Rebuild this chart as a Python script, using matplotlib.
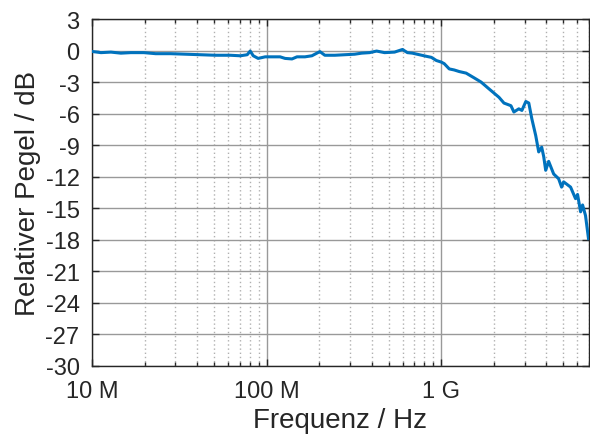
import numpy as np
import matplotlib
matplotlib.use("Agg")
import matplotlib.pyplot as plt
from matplotlib.ticker import FixedLocator, LogLocator, NullFormatter

# frequency in MHz and relative level in dB
freq_mhz = [10.1, 11.25, 12.83, 14.63, 16.68, 19.78, 23.15, 28.19, 34.33, 41.8,
            50.9, 61.9, 70.6, 77.4, 80.5, 83.8, 89.4, 98.1, 104.7, 119.4,
            127.5, 139.7, 149.2, 165.7, 181.6, 201.7, 215.4, 245.6, 280.0, 319.3,
            350.1, 388.7, 426.4, 473.5, 540, 599.6, 640, 683.5, 749.6, 821.9,
            877.7, 937.5, 1000, 1040, 1111, 1186, 1267, 1388, 1542, 1690,
            1877, 2140, 2286, 2506, 2606, 2781, 2896, 3050, 3172, 3302,
            3476, 3615, 3760, 3862, 3963, 4122, 4403, 4700, 4888, 5022,
            5504, 5875, 6035, 6280, 6447, 6700, 6970]
level_db = [-0.1, -0.2, -0.15, -0.25, -0.2, -0.2, -0.3, -0.3, -0.35, -0.4,
            -0.45, -0.45, -0.5, -0.4, -0.05, -0.5, -0.75, -0.6, -0.6, -0.6,
            -0.75, -0.8, -0.6, -0.6, -0.5, -0.1, -0.45, -0.45, -0.4, -0.35,
            -0.25, -0.2, -0.05, -0.2, -0.15, 0.1, -0.2, -0.25, -0.4, -0.55,
            -0.65, -0.95, -1.1, -1.25, -1.75, -1.85, -2.0, -2.15, -2.6, -3.0,
            -3.65, -4.45, -5.0, -5.25, -5.85, -5.55, -5.7, -4.85, -5.0, -6.5,
            -8.1, -9.65, -9.2, -10.1, -11.4, -10.55, -11.75, -12.2, -13.0, -12.5,
            -13.0, -14.1, -13.7, -15.35, -14.7, -15.7, -17.9]

xticks = [1e7, 1e8, 1e9]
xticklabels = ["10 M", "100 M", "1 G"]
yticks = list(range(-30, 4, 3))

plt.rcParams['font.family'] = ['Liberation Sans', 'DejaVu Sans']
txt = '#262626'

fig = plt.figure(figsize=(5.9, 4.35), dpi=100)
ax = fig.add_axes([0.156, 0.157, 0.842, 0.797])

f = np.array(freq_mhz) * 1e6
ax.plot(f, level_db, color='#0072BD', lw=2.2, zorder=3)

ax.set_xscale('log')
ax.set_xlim(1e7, 7e9)
ax.set_ylim(-30, 3)
ax.xaxis.set_major_locator(FixedLocator(xticks))
ax.set_xticklabels(xticklabels)
ax.xaxis.set_minor_locator(LogLocator(base=10, subs=np.arange(2, 10)))
ax.xaxis.set_minor_formatter(NullFormatter())
ax.set_yticks(yticks)
ax.set_yticklabels([str(v) for v in yticks])

ax.grid(which='major', color='#999999', lw=1.0, ls='-')
ax.grid(which='minor', axis='x', color='#b0b0b0', lw=1.0, ls=(0, (1, 2)))

for s in ax.spines.values():
    s.set_color(txt)
    s.set_linewidth(1.0)
ax.tick_params(which='both', direction='in', top=True, right=True,
               colors=txt, labelsize=17, width=1.0)
ax.tick_params(which='major', length=5)
ax.tick_params(which='minor', length=3)
ax.tick_params(axis='x', which='major', pad=10)
ax.tick_params(axis='y', which='major', pad=9)

ax.set_xlabel('Frequenz / Hz', fontsize=20, color=txt, labelpad=4)
ax.set_ylabel('Relativer Pegel / dB', fontsize=20, color=txt, labelpad=3)

fig.savefig('out.png', dpi=100)
